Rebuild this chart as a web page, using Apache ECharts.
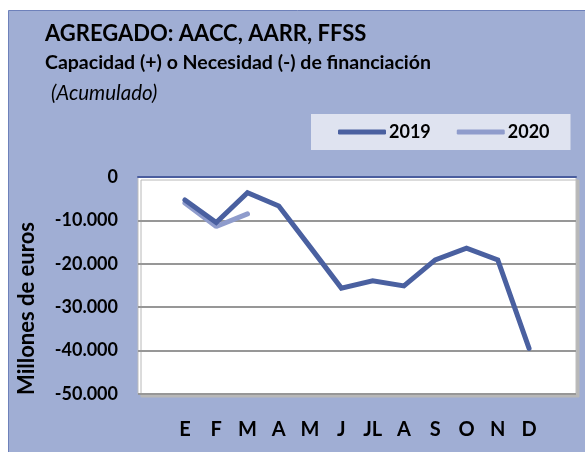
<!DOCTYPE html>
<html>
<head>
<meta charset="utf-8">
<script src="https://cdn.jsdelivr.net/npm/echarts@6/dist/echarts.min.js"></script>
<style>
  html, body { margin: 0; padding: 0; background: #fff; }
  #chart { width: 585px; height: 452px; }
</style>
</head>
<body>
<div id="chart"></div>
<script>
// month initials (Spanish)
const months = ['E', 'F', 'M', 'A', 'M', 'J', 'JL', 'A', 'S', 'O', 'N', 'D'];
// millones de euros, accumulated
const values2019 = [-5300, -10500, -3600, -6700, -16100, -25600, -23900, -25100, -19100, -16400, -19100, -39500];
const values2020 = [-6000, -11400, -8500];
const yTicks = [-50000, -40000, -30000, -20000, -10000, 0];

// one empty slot at each end, as in the original plot
const cats = [''].concat(months, ['']);
const pad = (arr) => [null].concat(arr, new Array(cats.length - 1 - arr.length).fill(null));

const fmt = (v) => String(v).replace(/\B(?=(\d{3})+(?!\d))/g, '.');

const chart = echarts.init(document.getElementById('chart'));
const font = 'Lato';

chart.setOption({
  animation: false,
  textStyle: { fontFamily: font },
  graphic: [
    {
      type: 'rect',
      z: -10,
      silent: true,
      shape: { x: 8.5, y: 10.5, width: 590, height: 460 },
      style: { fill: '#A0AED4', stroke: '#6E81BA', lineWidth: 1 },
    },
  ],
  title: [
    {
      text: 'AGREGADO: AACC, AARR, FFSS',
      left: 45,
      top: 23,
      padding: 0,
      textStyle: { fontFamily: font, fontSize: 22, fontWeight: 'bold', color: '#000' },
    },
    {
      text: 'Capacidad (+) o Necesidad (-) de financiación',
      left: 45,
      top: 53,
      padding: 0,
      textStyle: { fontFamily: font, fontSize: 19.5, fontWeight: 'bold', color: '#000' },
    },
    {
      text: '(Acumulado)',
      left: 51,
      top: 83,
      padding: 0,
      textStyle: { fontFamily: font, fontSize: 20.5, fontStyle: 'italic', fontWeight: 'normal', color: '#000' },
    },
  ],
  legend: {
    left: 311,
    top: 114,
    padding: [9, 21, 9, 27],
    backgroundColor: '#DFE3F0',
    itemGap: 26,
    itemWidth: 48,
    itemHeight: 5,
    icon: 'roundRect',
    textStyle: { fontFamily: font, fontSize: 18, fontWeight: 'bold', color: '#000', padding: [0, 0, 0, -2] },
    data: ['2019', '2020'],
  },
  grid: {
    left: 138,
    right: 9,
    top: 177,
    bottom: 58,
    show: true,
    backgroundColor: '#fff',
    borderColor: '#BDBDBD',
    borderWidth: 1,
    shadowColor: '#B8B8B8',
    shadowOffsetX: 3,
    shadowOffsetY: 3,
    shadowBlur: 0,
  },
  xAxis: [
    {
      type: 'category',
      data: cats,
      position: 'bottom',
      boundaryGap: true,
      axisLine: { show: false },
      axisTick: { show: false },
      axisLabel: {
        interval: 0,
        margin: 26,
        fontFamily: font,
        fontSize: 20,
        fontWeight: 'bold',
        color: '#000',
      },
      splitLine: { show: false },
    },
    {
      type: 'category',
      data: cats,
      position: 'top',
      axisLine: { show: true, lineStyle: { color: '#4A5D9E', width: 2 } },
      axisTick: { show: false },
      axisLabel: { show: false },
    },
  ],
  yAxis: {
    type: 'value',
    min: yTicks[0],
    max: yTicks[yTicks.length - 1],
    interval: 10000,
    name: 'Millones de euros',
    nameLocation: 'middle',
    nameRotate: 90,
    nameGap: 100,
    nameTextStyle: {
      fontFamily: font,
      fontSize: 22,
      fontWeight: 'bold',
      color: '#000',
      padding: [0, 46, 0, 0],
    },
    axisLine: { show: false },
    axisTick: { show: false },
    axisLabel: {
      margin: 20,
      fontFamily: font,
      fontSize: 18,
      fontWeight: 'bold',
      color: '#000',
      formatter: fmt,
    },
    splitLine: { show: true, lineStyle: { color: '#979797', width: 2 } },
  },
  series: [
    {
      name: '2019',
      type: 'line',
      data: pad(values2019),
      showSymbol: false,
      symbol: 'none',
      color: '#4A60A0',
      lineStyle: { width: 5, color: '#4A60A0', cap: 'round', join: 'miter' },
      z: 3,
    },
    {
      name: '2020',
      type: 'line',
      data: pad(values2020),
      showSymbol: false,
      symbol: 'none',
      color: '#8F9CCC',
      lineStyle: { width: 5, color: '#8F9CCC', cap: 'round' },
      z: 2,
    },
  ],
});
</script>
</body>
</html>
